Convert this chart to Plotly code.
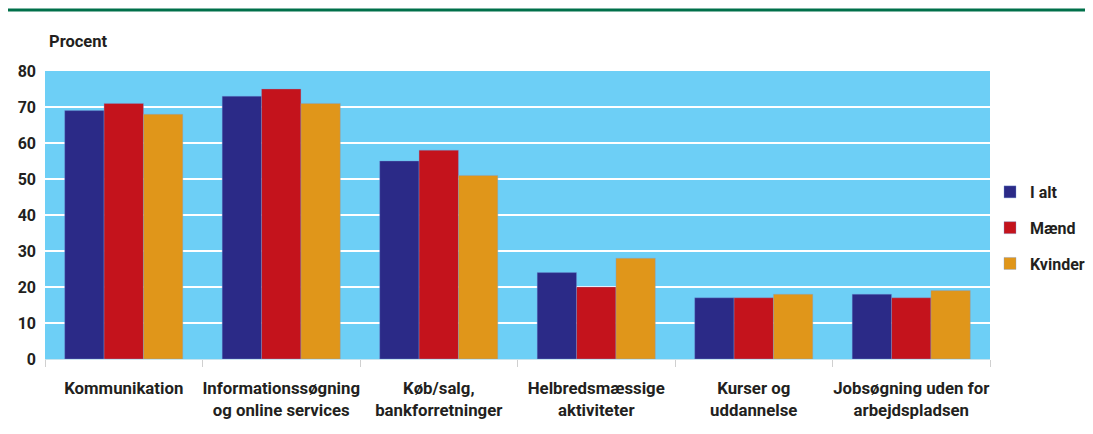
import plotly.graph_objects as go

categories = ["Kommunikation", "Informationssøgning<br>og online services", "Køb/salg,<br>bankforretninger",
              "Helbredsmæssige<br>aktiviteter", "Kurser og<br>uddannelse", "Jobsøgning uden for<br>arbejdspladsen"]
i_alt = [69, 73, 55, 24, 17, 18]
maend = [71, 75, 58, 20, 17, 17]
kvinder = [68, 71, 51, 28, 18, 19]
y_ticks = [0, 10, 20, 30, 40, 50, 60, 70, 80]

FONT = "Roboto"
TXT = "#231f20"

fig = go.Figure()
for name, vals, col, grp in [("I alt", i_alt, "#2b2a87", "a"), ("Mænd", maend, "#c4131c", "b"), ("Kvinder", kvinder, "#e0961a", "c")]:
    fig.add_trace(go.Bar(name=name, x=categories, y=vals, marker=dict(color=col, line=dict(width=0.6, color="rgba(120,160,220,0.6)")),
                         legendgroup=grp))

fig.update_layout(
    width=1085, height=418,
    margin=dict(l=37, r=103, t=63, b=67, autoexpand=False),
    paper_bgcolor="white", plot_bgcolor="#6dcff6",
    barmode="group", bargap=0.25, bargroupgap=0,
    font=dict(family=FONT, color=TXT, size=16, weight="bold"),
    legend=dict(x=1.0, y=0.455, xanchor="left", yanchor="middle", tracegroupgap=12,
                font=dict(family=FONT, size=16, color=TXT, weight="bold"), bgcolor="rgba(0,0,0,0)"),
    xaxis=dict(showgrid=False, ticks="outside", tickson="boundaries", ticklen=7, tickcolor="#d0d0d0",
               showline=True, linecolor="#c8e4ee", linewidth=1, tickangle=0, automargin=False,
               ticklabelstandoff=14,
               tickfont=dict(family=FONT, size=16.8, color=TXT, weight="bold")),
    yaxis=dict(range=[0, 80], tickvals=y_ticks, showgrid=True, gridcolor="white", gridwidth=2,
               zeroline=False, ticks="", ticklabelstandoff=8, automargin=False,
               tickfont=dict(family=FONT, size=16, color=TXT, weight="bold")),
)
fig.add_shape(type="line", xref="paper", yref="paper", x0=-0.04, x1=1.11, y0=1.212, y1=1.212,
              line=dict(color="#00704a", width=3))
fig.add_annotation(text="Procent", xref="paper", yref="paper", x=0.002, y=1.104, xanchor="left", yanchor="middle",
                   showarrow=False, font=dict(family=FONT, size=16.5, color=TXT, weight="bold"))
fig.write_html("out.html")
